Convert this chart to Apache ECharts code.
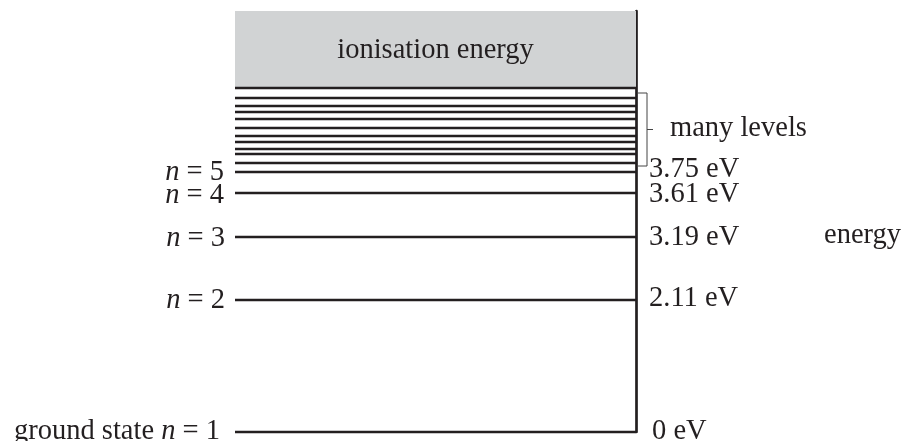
<!DOCTYPE html>
<html><head><meta charset="utf-8">
<script src="https://cdn.jsdelivr.net/npm/echarts@6/dist/echarts.min.js"></script>
<style>html,body{margin:0;padding:0;background:#fff}#c{width:904px;height:441px}</style>
</head><body><div id="c"></div>
<script>
// ---- data ----
const levelLabels = ['ground state n = 1', 'n = 2', 'n = 3', 'n = 4', 'n = 5'];
const levelEnergies = ['0 eV', '2.11 eV', '3.19 eV', '3.61 eV', '3.75 eV'];
// schematic heights of the levels on the (unlabelled) energy axis
const levelHeights = [0, 132, 195, 239, 260];
const manyLevelHeights = [269, 278, 283, 290, 296, 304, 313, 320, 326, 334];
const ionisationHeight = 344;
const diagramTop = 421;
const bracketRange = [266, 339];
const boxText = 'ionisation energy';
const bracketText = 'many levels';
const axisText = 'energy';

// ---- style ----
const ink = '#231f20';
const font = 'Liberation Serif, Times New Roman, serif';
const fs = 28.5;
const richItalic = { i: { fontStyle: 'italic', fontFamily: font, fontSize: fs, fill: ink, color: ink } };

const chart = echarts.init(document.getElementById('c'), null, { renderer: 'canvas' });
chart.setOption({
  backgroundColor: '#fff',
  animation: false,
  grid: { left: 235, right: 268, top: 11, bottom: 9 },
  xAxis: { type: 'value', min: 0, max: 1, show: false },
  yAxis: {
    type: 'value', min: 0, max: diagramTop, position: 'right',
    axisLine: { show: true, onZero: false, lineStyle: { color: ink, width: 2.7 } },
    axisTick: { show: false }, axisLabel: { show: false }, splitLine: { show: false }
  },
  graphic: [{
    type: 'text', left: 824, top: 221,
    style: { text: axisText, fontFamily: font, fontSize: fs, fill: ink }
  }],
  series: [
    { // ionisation box
      type: 'custom', coordinateSystem: 'cartesian2d', z: 1,
      data: [[ionisationHeight, diagramTop]],
      renderItem(params, api) {
        const a = api.coord([0, api.value(1)]);
        const b = api.coord([1, api.value(0)]);
        return { type: 'group', children: [
          { type: 'rect', shape: { x: a[0], y: a[1], width: b[0] - a[0], height: b[1] - a[1] }, style: { fill: '#d1d3d4' } },
          { type: 'line', shape: { x1: a[0], y1: b[1], x2: b[0], y2: b[1] }, style: { stroke: ink, lineWidth: 2.4 } },
          { type: 'text', x: (a[0] + b[0]) / 2, y: (a[1] + b[1]) / 2 + 1,
            style: { text: boxText, fontFamily: font, fontSize: fs, fill: ink, align: 'center', verticalAlign: 'middle' } }
        ] };
      }
    },
    { // many levels
      type: 'custom', coordinateSystem: 'cartesian2d', z: 2,
      data: manyLevelHeights.map(h => [h]),
      renderItem(params, api) {
        const h = api.value(0);
        const a = api.coord([0, h]), b = api.coord([1, h]);
        return { type: 'line', shape: { x1: a[0], y1: a[1], x2: b[0], y2: b[1] }, style: { stroke: ink, lineWidth: 2.6 } };
      }
    },
    { // labelled levels
      type: 'custom', coordinateSystem: 'cartesian2d', z: 2,
      data: levelHeights.map((h, i) => [h, i]),
      renderItem(params, api) {
        const h = api.value(0), i = api.value(1);
        const a = api.coord([0, h]), b = api.coord([1, h]);
        const dyL = [0, 1, 2, 3, 1][i];
        const dyR = [0, -1, 1, 2, -2][i];
        const gapL = [15, 10, 10, 11, 11][i];
        return { type: 'group', children: [
          { type: 'line', shape: { x1: a[0], y1: a[1], x2: b[0], y2: b[1] }, style: { stroke: ink, lineWidth: 2.5 } },
          { type: 'text', x: a[0] - gapL, y: a[1] + dyL,
            style: { text: levelLabels[i].replace('n = ', '{i|n} = '), rich: richItalic, fontFamily: font, fontSize: fs, fill: ink, align: 'right', verticalAlign: 'middle' } },
          { type: 'text', x: b[0] + (i === 0 ? 16 : 13), y: b[1] + dyR,
            style: { text: levelEnergies[i], fontFamily: font, fontSize: fs, fill: ink, align: 'left', verticalAlign: 'middle' } }
        ] };
      }
    },
    { // bracket
      type: 'custom', coordinateSystem: 'cartesian2d', z: 2,
      data: [bracketRange],
      renderItem(params, api) {
        const lo = api.coord([1, api.value(0)]), hi = api.coord([1, api.value(1)]);
        const x0 = lo[0] + 1, x1 = lo[0] + 11, mid = (lo[1] + hi[1]) / 2;
        return { type: 'group', children: [
          { type: 'polyline', shape: { points: [[x0, hi[1]], [x1, hi[1]], [x1, lo[1]], [x0, lo[1]]] }, style: { stroke: '#444', lineWidth: 1, fill: null } },
          { type: 'line', shape: { x1: x1, y1: mid, x2: x1 + 6, y2: mid }, style: { stroke: '#444', lineWidth: 1 } },
          { type: 'text', x: x1 + 23, y: mid - 1,
            style: { text: bracketText, fontFamily: font, fontSize: fs, fill: ink, align: 'left', verticalAlign: 'middle' } }
        ] };
      }
    }
  ]
});
</script></body></html>
